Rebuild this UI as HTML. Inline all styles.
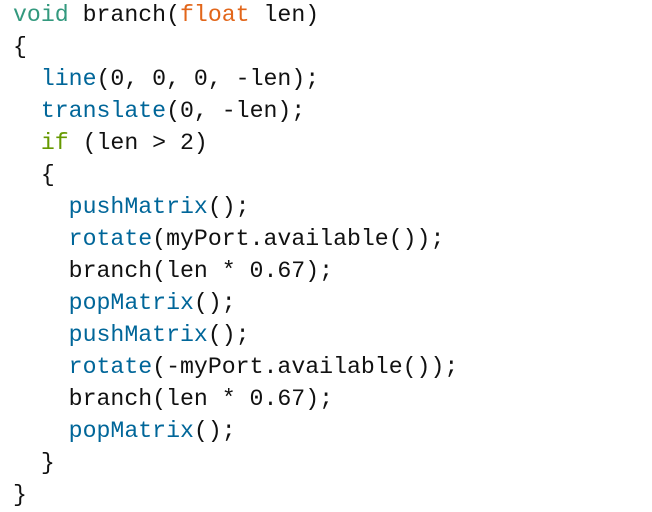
<!DOCTYPE html>
<html><head><style>
html,body{margin:0;padding:0;background:#fff;width:652px;height:512px;overflow:hidden}
pre{margin:0;position:absolute;left:13px;top:-1px;font-family:"Liberation Mono",monospace;font-size:23.2px;line-height:32px;color:#111}
.k{color:#33997e}.t{color:#e2661a}.f{color:#006699}.g{color:#669900}
</style></head><body>
<pre><span class="k">void</span> branch(<span class="t">float</span> len)
{
  <span class="f">line</span>(0, 0, 0, -len);
  <span class="f">translate</span>(0, -len);
  <span class="g">if</span> (len &gt; 2)
  {
    <span class="f">pushMatrix</span>();
    <span class="f">rotate</span>(myPort.available());
    branch(len * 0.67);
    <span class="f">popMatrix</span>();
    <span class="f">pushMatrix</span>();
    <span class="f">rotate</span>(-myPort.available());
    branch(len * 0.67);
    <span class="f">popMatrix</span>();
  }
}</pre>
</body></html>
